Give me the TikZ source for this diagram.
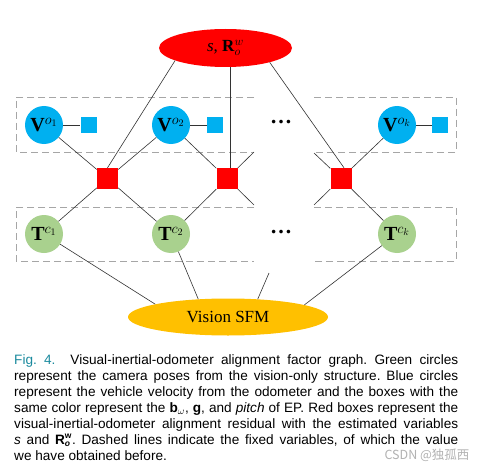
\documentclass[tikz,border=0pt]{standalone}
\usepackage{fontspec}
\setmainfont{Liberation Serif}
\newfontfamily\capfont{Liberation Sans}
\newfontfamily\cjkfont{Noto Sans CJK SC}
\usetikzlibrary{shapes.geometric,calc}
\definecolor{vblue}{HTML}{00B0F0}
\definecolor{tgreen}{HTML}{A9D18E}
\definecolor{sfmorange}{HTML}{FFC000}
\definecolor{figteal}{HTML}{1A8A9E}
\definecolor{dashgray}{HTML}{A6A6A6}
\definecolor{edgegray}{HTML}{333333}
\tikzset{
  vnode/.style={circle, fill=vblue, minimum size=38pt, inner sep=0pt, font=\fontsize{20}{20}\selectfont},
  tnode/.style={circle, fill=tgreen, minimum size=38pt, inner sep=0pt, font=\fontsize{20}{20}\selectfont},
  factor/.style={rectangle, fill=red, minimum size=21pt, inner sep=0pt},
  prior/.style={rectangle, fill=vblue, minimum size=16pt, inner sep=0pt},
  conn/.style={draw=edgegray, line width=0.6pt},
  fixbox/.style={draw=dashgray, line width=0.9pt, dash pattern=on 7pt off 4pt},
  dotsnode/.style={inner sep=0pt, font=\bfseries\fontsize{22}{22}\selectfont},
}
\newcommand{\capsub}[1]{\mbox{\fontsize{8.5}{8.5}\selectfont #1}}
\begin{document}
\frenchspacing
\begin{tikzpicture}[x=1pt,y=-1pt]
\fill[white] (0,0) rectangle (492,468);
\useasboundingbox (0,0) rectangle (492,468);

% dashed boxes (open where the dots are)
\draw[fixbox] (254,97) -- (16,97) -- (16,152) -- (254,152);
\draw[fixbox] (314,97) -- (456,97) -- (456,152) -- (314,152);
\draw[fixbox] (254,207) -- (16,207) -- (16,261) -- (254,261);
\draw[fixbox] (314,207) -- (456,207) -- (456,261) -- (314,261);

% nodes
\node[ellipse, fill=red, minimum width=133pt, minimum height=38pt, inner sep=0pt,
      font=\fontsize{17}{17}\selectfont] (top) at (225.5,48) {\textit{s}, \textbf{R}$^{w}_{o}$};

\node[vnode] (v1) at (44,125) {\textbf{V}$^{o_1}$};
\node[vnode] (v2) at (171,125) {\textbf{V}$^{o_2}$};
\node[vnode] (vk) at (397,125) {\textbf{V}$^{o_k}$};
\node[prior] (b1) at (88.5,125) {};
\node[prior] (b2) at (215,125) {};
\node[prior] (bk) at (440,125) {};

\node[factor] (r1) at (107.5,178.5) {};
\node[factor] (r2) at (227,178.5) {};
\node[factor] (r3) at (341,178.5) {};

\node[tnode] (t1) at (44,234) {\textbf{T}$^{c_1}$};
\node[tnode] (t2) at (171,234) {\textbf{T}$^{c_2}$};
\node[tnode] (tk) at (397,234) {\textbf{T}$^{c_k}$};

\node[dotsnode] (d1) at (281,122) {…};
\node[dotsnode] (d2) at (281,232) {…};

\node[ellipse, fill=sfmorange, minimum width=200pt, minimum height=37pt, inner sep=0pt,
      font=\fontsize{17}{17}\selectfont] (sfm) at (228,317) {Vision SFM};

% free ends of the cut connectors
\coordinate (s1) at (254,152);
\coordinate (s2) at (254,205);
\coordinate (s3) at (314,153);
\coordinate (s4) at (314,205);
\coordinate (s5) at (269,273);

% connectors
\draw[conn] (top.194.7) -- (r1.north);
\draw[conn] (top.-75) -- (top.-75 |- r2.north);
\draw[conn] (top.-18.2) -- ($(r3.north)+(3,0)$);

\draw[conn] (v1) -- (b1);
\draw[conn] (v2) -- (b2);
\draw[conn] (vk) -- (bk);

\draw[conn] (v1) -- (r1);
\draw[conn] (v2) -- (r1);
\draw[conn] (v2) -- (r2);
\draw[conn] (vk) -- (r3);
\draw[conn] (r2) -- (s1);
\draw[conn] (r2) -- (s2);
\draw[conn] (r3) -- (s3);
\draw[conn] (r3) -- (s4);

\draw[conn] (r1) -- (t1);
\draw[conn] (r1) -- (t2);
\draw[conn] (r2) -- (t2);
\draw[conn] (r3) -- (tk);

\draw[conn] (t1) -- (sfm.170.8);
\draw[conn] (t2) -- (sfm.149);
\draw[conn] (tk) -- (sfm.9.6);
\draw[conn] (sfm.31.5) -- (s5);

% caption
\node[anchor=north west, inner sep=0pt, align=left,
      font=\capfont\fontsize{13.6}{16}\selectfont] (cap) at (14,354) {%
\makebox[444pt][s]{{\color{figteal}Fig. 4.}\hspace{1.1em}Visual-inertial-odometer alignment factor graph. Green circles}\\
\makebox[444pt][s]{represent the camera poses from the vision-only structure. Blue circles}\\
\makebox[444pt][s]{represent the vehicle velocity from the odometer and the boxes with the}\\
\makebox[444pt][s]{same color represent the \textbf{b}$_{\omega}$, \textbf{g}, and \textit{pitch} of EP. Red boxes represent the}\\
\makebox[444pt][s]{visual-inertial-odometer alignment residual with the estimated variables}\\
\makebox[444pt][s]{\textit{s} and \smash{\textbf{R}$^{\capsub{\bfseries w}}_{\raisebox{1pt}{\capsub{\bfseries\itshape o}}}$}. Dashed lines indicate the fixed variables, of which the value}\\
we have obtained before.};

\node[inner sep=0pt, text=black!30, font=\cjkfont\fontsize{12.5}{12.5}\selectfont] (wm) at (427,455) {CSDN @独孤西};
\end{tikzpicture}
\end{document}
